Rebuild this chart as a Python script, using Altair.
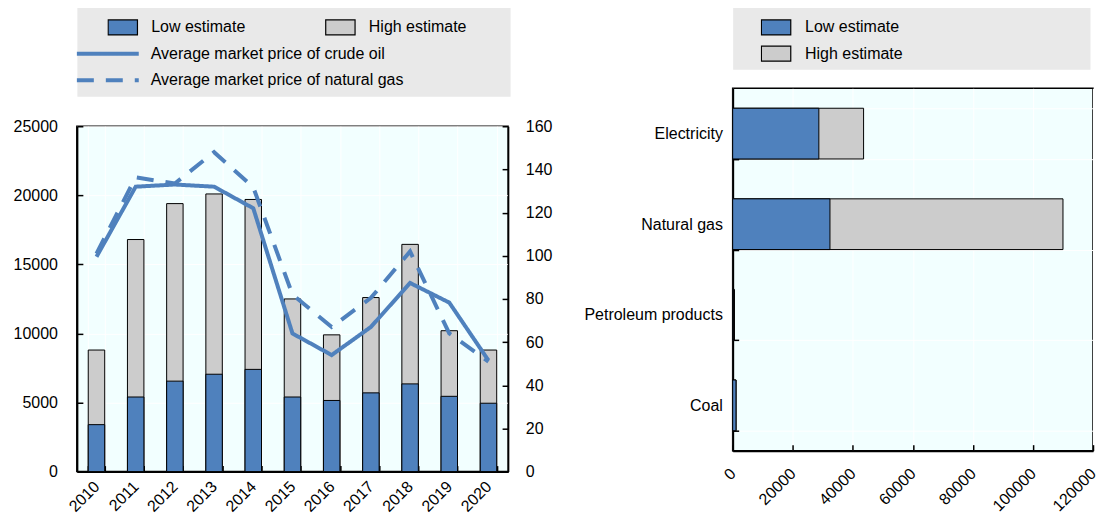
import altair as alt
import pandas as pd

# ---------------- data ----------------
years = ["2010", "2011", "2012", "2013", "2014", "2015", "2016", "2017", "2018", "2019", "2020"]
low_estimate = [3400, 5400, 6550, 7050, 7400, 5400, 5150, 5700, 6350, 5450, 4950]
high_estimate = [8800, 16800, 19400, 20100, 19700, 12500, 9900, 12600, 16450, 10200, 8800]
crude_oil_price = [99.5, 132, 133, 132, 122, 64, 54, 67, 87.4, 78.3, 51.5]
natural_gas_price = [101, 136.3, 133.5, 148, 131.7, 82, 67, 80.5, 102, 64, 51]

carriers = ["Electricity", "Natural gas", "Petroleum products", "Coal"]
carrier_low = [28700, 32400, 300, 1100]
carrier_high = [43600, 110000, 600, 1150]

LOW = "Low estimate"
HIGH = "High estimate"
OIL = "Average market price of crude oil"
GAS = "Average market price of natural gas"

# ---------------- style ----------------
FONT = "'Liberation Sans', Arial, sans-serif"
FS = 16
BLUE = "#4F81BD"
GRAY = "#CCCCCC"
BG = "#F2FFFF"
LEG_BG = "#E9E9E9"
NEG_TICK = {"expr": "-6"}

fill_scale = alt.Scale(domain=[LOW, HIGH], range=[BLUE, GRAY])
dash_scale = alt.Scale(domain=[OIL, GAS], range=[[1, 0], [17, 12]])

bars_df = pd.DataFrame({
    "year": years + years,
    "series": [HIGH] * len(years) + [LOW] * len(years),
    "value": high_estimate + low_estimate,
    "ord": [0] * len(years) + [1] * len(years),
})
lines_df = pd.DataFrame({
    "year": years + years,
    "fuel": [OIL] * len(years) + [GAS] * len(years),
    "price": crude_oil_price + natural_gas_price,
})
carrier_df = pd.DataFrame({
    "carrier": carriers + carriers,
    "series": [HIGH] * len(carriers) + [LOW] * len(carriers),
    "value": carrier_high + carrier_low,
    "ord": [0] * len(carriers) + [1] * len(carriers),
})
leg_fill_df = pd.DataFrame({"series": [LOW, HIGH]})
leg_line_df = pd.DataFrame({"fuel": [OIL, GAS]})

# ---------------- left panel ----------------
x_years = alt.X(
    "year:N", title=None,
    scale=alt.Scale(paddingInner=0.58, paddingOuter=0.29),
    axis=alt.Axis(labelAngle=-45, labelAlign="right", labelBaseline="middle",
                  labelPadding=18, tickBand="extent", tickSize=NEG_TICK,
                  tickWidth=1.5, grid=True, gridColor="white", gridWidth=1,
                  domainWidth=2),
)

bars = alt.Chart(bars_df).mark_bar(stroke="#000", strokeWidth=1).encode(
    x=x_years,
    y=alt.Y("value:Q", title=None, stack=None,
            scale=alt.Scale(domain=[0, 25000], nice=False),
            axis=alt.Axis(values=list(range(0, 25001, 5000)), format="d",
                          tickSize=NEG_TICK, tickWidth=1.5, labelPadding=25.5,
                          grid=True, gridColor="white", gridWidth=1, domainWidth=2)),
    fill=alt.Fill("series:N", scale=fill_scale, legend=None),
    order=alt.Order("ord:Q"),
)

lines = alt.Chart(lines_df).mark_line(color=BLUE, strokeWidth=4).encode(
    x=alt.X("year:N", title=None),
    y=alt.Y("price:Q", title=None,
            scale=alt.Scale(domain=[0, 160], nice=False),
            axis=alt.Axis(orient="right", values=list(range(0, 161, 20)),
                          tickSize=NEG_TICK, tickWidth=1.5, labelPadding=23.3,
                          grid=False, domainWidth=1.5)),
    strokeDash=alt.StrokeDash("fuel:N", scale=dash_scale, legend=None),
)

left_main = alt.layer(bars, lines).resolve_scale(y="independent").properties(
    width=432, height=346)

common_leg = dict(title=None, orient="none", padding=0, labelFont=FONT,
                  labelFontSize=FS, labelColor="#000", labelLimit=400,
                  symbolOpacity=1, clipHeight=20)

left_leg_fill = alt.Chart(leg_fill_df).mark_square().encode(
    fill=alt.Fill("series:N", scale=fill_scale, legend=alt.Legend(
        legendX=30.5, legendY=11, columns=2, columnPadding=79,
        symbolType="M-1,-0.51H1V0.51H-1Z", symbolSize=864,
        symbolStrokeColor="#000", symbolStrokeWidth=1.2, labelOffset=13,
        **common_leg)),
).transform_filter("false")

left_leg_line = alt.Chart(leg_line_df).mark_line(color=BLUE, strokeWidth=4).encode(
    strokeDash=alt.StrokeDash("fuel:N", scale=dash_scale, legend=alt.Legend(
        legendX=-2, legendY=37.3, rowPadding=6.7, symbolType="stroke",
        symbolSize=3844, symbolStrokeColor=BLUE, symbolStrokeWidth=4,
        labelOffset=10, **common_leg)),
).transform_filter("false")

left_legend = alt.layer(left_leg_fill, left_leg_line).resolve_scale(
    fill="independent", strokeDash="independent").properties(
    width=434, height=90,
    view=alt.ViewBackground(fill=LEG_BG, stroke="transparent"))

left_col = alt.vconcat(left_legend, left_main, spacing=30, bounds="flush").resolve_scale(
    fill="independent", strokeDash="independent")

# ---------------- right panel ----------------
right_main = alt.Chart(carrier_df).mark_bar(stroke="#000", strokeWidth=1).encode(
    y=alt.Y("carrier:N", sort=carriers, title=None,
            scale=alt.Scale(paddingInner=0.44, paddingOuter=0.22),
            axis=alt.Axis(tickBand="extent", tickSize=NEG_TICK, tickWidth=1.5,
                          labelPadding=16.3, grid=True, gridColor="white",
                          gridWidth=1, domainWidth=2)),
    x=alt.X("value:Q", title=None, stack=None,
            scale=alt.Scale(domain=[0, 120000], nice=False),
            axis=alt.Axis(values=list(range(0, 120001, 20000)), format="d",
                          labelAngle=-45, labelAlign="right", labelBaseline="middle",
                          labelPadding=26, tickSize=NEG_TICK, tickWidth=1.5,
                          grid=True, gridColor="white", gridWidth=1, domainWidth=2)),
    fill=alt.Fill("series:N", scale=fill_scale, legend=None),
    order=alt.Order("ord:Q"),
).properties(width=361, height=363)

right_leg = alt.Chart(leg_fill_df).mark_square().encode(
    fill=alt.Fill("series:N", scale=fill_scale, legend=alt.Legend(
        legendX=28, legendY=11, rowPadding=6.3,
        symbolType="M-1,-0.51H1V0.51H-1Z", symbolSize=864,
        symbolStrokeColor="#000", symbolStrokeWidth=1.2, labelOffset=13.5,
        **common_leg)),
).transform_filter("false").properties(
    width=358, height=63,
    view=alt.ViewBackground(fill=LEG_BG, stroke="transparent"))

right_col = alt.vconcat(right_leg, right_main, spacing=19, bounds="flush").resolve_scale(
    fill="independent")

chart = alt.hconcat(left_col, right_col, spacing=30).resolve_scale(
    fill="independent", strokeDash="independent"
).properties(
    padding={"left": 4, "top": -3, "right": -2, "bottom": -2}
).configure(font=FONT).configure_view(
    fill=BG, stroke="#000", strokeWidth=1.5
).configure_axis(
    labelFont=FONT, labelFontSize=FS, labelColor="#000",
    tickColor="#000", domainColor="#000",
).configure_legend(
    labelFont=FONT, labelFontSize=FS, labelColor="#000",
)

chart.save("out.html", embed_options={"renderer": "svg", "actions": False})
